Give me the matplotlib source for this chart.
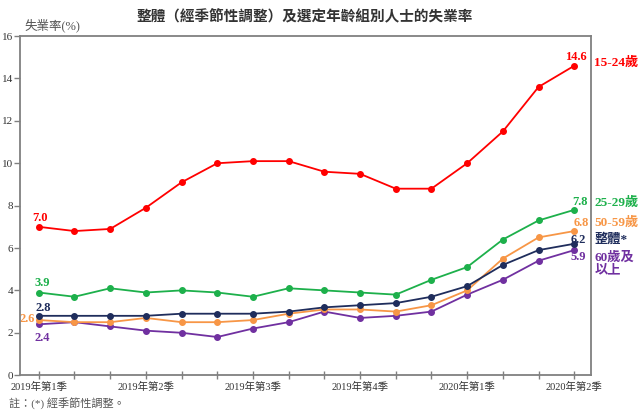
import matplotlib
matplotlib.use("Agg")
import matplotlib.pyplot as plt
import matplotlib.transforms as transforms

""" 
	Unemployment rate, overall (seasonally adjusted) and selected age groups
"""

periods = list(range(16))
tick_labels = ['2019年第1季', '2019年第2季', '2019年第3季',
               '2019年第4季', '2020年第1季', '2020年第2季']
tick_pos = [0, 3, 6, 9, 12, 15]

age_15_24 = [7.0, 6.8, 6.9, 7.9, 9.1, 10.0, 10.1, 10.1, 9.6, 9.5, 8.8, 8.8, 10.0, 11.5, 13.6, 14.6]
age_25_29 = [3.9, 3.7, 4.1, 3.9, 4.0, 3.9, 3.7, 4.1, 4.0, 3.9, 3.8, 4.5, 5.1, 6.4, 7.3, 7.8]
age_50_59 = [2.6, 2.5, 2.5, 2.7, 2.5, 2.5, 2.6, 2.9, 3.1, 3.1, 3.0, 3.3, 4.0, 5.5, 6.5, 6.8]
overall = [2.8, 2.8, 2.8, 2.8, 2.9, 2.9, 2.9, 3.0, 3.2, 3.3, 3.4, 3.7, 4.2, 5.2, 5.9, 6.2]
age_60_up = [2.4, 2.5, 2.3, 2.1, 2.0, 1.8, 2.2, 2.5, 3.0, 2.7, 2.8, 3.0, 3.8, 4.5, 5.4, 5.9]

FONT = ['Liberation Serif', 'Noto Sans CJK TC']
CJK = ['Noto Sans CJK TC', 'DejaVu Sans']

# name, values, colour, start label offset, end label offset, group label offset
series = [
	('60歲及\n以上', age_60_up, '#7030A0', (2.5, -10), (3, -5), -10),
	('50-59歲', age_50_59, '#F79646', (-8, 1), (5, 5.5), 6),
	('整體*', overall, '#1F2D5C', (3.5, 5.5), (3, 3), 3),
	('25-29歲', age_25_29, '#1DB04B', (2.5, 7), (4, 6), 5),
	('15-24歲', age_15_24, '#FF0000', (1, 6), (1.5, 6), 2),
]

fig = plt.figure(figsize=(6.41, 4.15), dpi=100)
ax = fig.add_axes([0.031, 0.096, 0.891, 0.817])

blend = transforms.blended_transform_factory(ax.transAxes, ax.transData)

for name, vals, color, off0, off1, offg in series:
	ax.plot(periods, vals, color=color, lw=1.3, marker='o', ms=4, zorder=3)
	ax.annotate('%.1f' % vals[0], (periods[0], vals[0]), xytext=off0,
	            textcoords='offset points', ha='center', va='center',
	            color=color, fontsize=9, fontweight='bold', family=FONT, zorder=2)
	ax.annotate('%.1f' % vals[-1], (periods[-1], vals[-1]), xytext=off1,
	            textcoords='offset points', ha='center', va='center',
	            color=color, fontsize=9, fontweight='bold', family=FONT)
	ax.annotate(name, (1.0, vals[-1]), xycoords=blend, xytext=(2.5, offg),
	            textcoords='offset points', ha='left', va='center',
	            color=color, fontsize=9.5, fontweight='bold', family=FONT,
	            linespacing=1.1, annotation_clip=False)

ax.set_xlim(-0.53, 15.47)
ax.set_ylim(0, 16)
ax.set_yticks(range(0, 17, 2))
ax.set_xticks(periods)
ax.set_xticklabels(['' for p in periods])
for p, lab in zip(tick_pos, tick_labels):
	ax.annotate(lab, (p, 0), xytext=(0, -8.5), textcoords='offset points',
	            ha='center', va='center', fontsize=7.5, color='#333333',
	            family=FONT, annotation_clip=False)

for s in ax.spines.values():
	s.set_color('#808080')
	s.set_linewidth(1.3)
ax.tick_params(axis='x', direction='inout', length=6, width=1, color='#808080')
ax.tick_params(axis='y', direction='out', length=4, width=1, color='#808080',
               labelsize=8, labelcolor='#333333', pad=1)
for t in ax.get_yticklabels():
	t.set_family(FONT)

fig.text(0.475, 0.962, '整體（經季節性調整）及選定年齡組別人士的失業率', ha='center',
         va='center', fontsize=10.5, fontweight='bold', color='#333333', family=CJK)
ax.text(0.008, 1.01, '失業率(%)', transform=ax.transAxes, ha='left', va='bottom',
        fontsize=9, color='#555555', family=FONT)
fig.text(0.014, 0.028, '註：(*) 經季節性調整。', ha='left', va='center',
         fontsize=8, color='#555555', family=FONT)

fig.savefig('out.png', dpi=100)
